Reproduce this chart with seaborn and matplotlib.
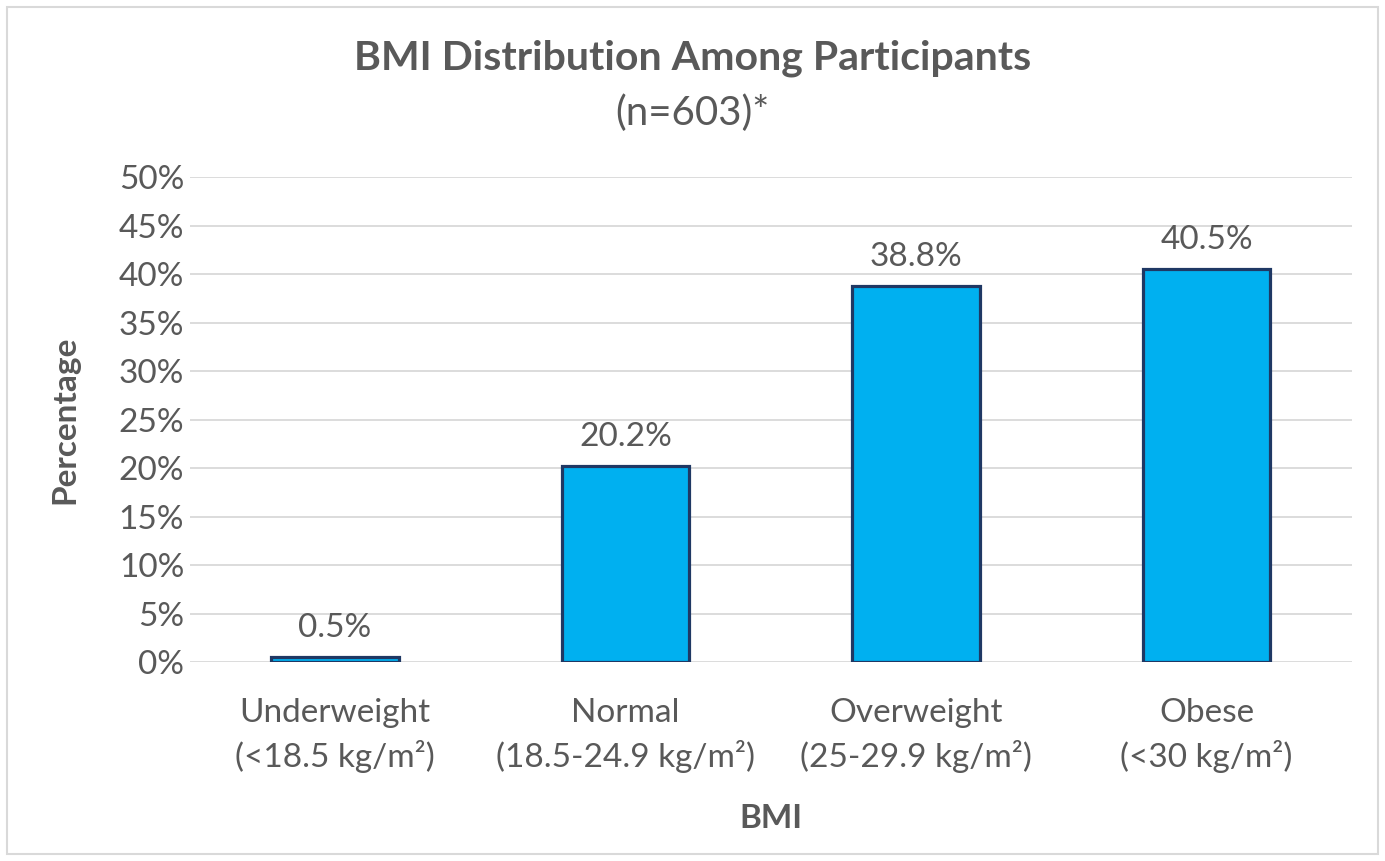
import matplotlib
matplotlib.use("Agg")
import matplotlib.pyplot as plt
from matplotlib.patches import Rectangle
from matplotlib.ticker import PercentFormatter
import seaborn as sns
import pandas as pd

categories = ["Underweight\n(<18.5 kg/m²)", "Normal\n(18.5-24.9 kg/m²)",
              "Overweight\n(25-29.9 kg/m²)", "Obese\n(<30 kg/m²)"]
percentages = [0.5, 20.2, 38.8, 40.5]
value_labels = ["0.5%", "20.2%", "38.8%", "40.5%"]

sns.set_theme(style="white")
plt.rcParams["font.family"] = ["Lato", "DejaVu Sans"]

TEXT = "#595959"
FILL = "#00B0F0"
EDGE = "#1F3864"
GRID = "#D9D9D9"
FS = 24

df = pd.DataFrame({"BMI": categories, "Percentage": percentages})

fig = plt.figure(figsize=(13.85, 8.61), dpi=100)
ax = fig.add_axes([0.137, 0.2311, 0.839, 0.5633])

sns.barplot(data=df, x="BMI", y="Percentage", color=FILL, width=0.44,
            edgecolor=EDGE, linewidth=2.3, saturation=1, ax=ax, zorder=3)

ax.set_ylim(0, 50)
ax.set_xlim(-0.5, 3.5)
ax.set_yticks(range(0, 51, 5))
ax.yaxis.set_major_formatter(PercentFormatter(decimals=0))
ax.grid(axis="y", color=GRID, linewidth=1.3, zorder=0)
ax.set_axisbelow(True)
for s in ax.spines.values():
    s.set_visible(False)
ax.tick_params(axis="both", length=0, labelsize=FS, colors=TEXT)
ax.tick_params(axis="y", pad=4)
ax.tick_params(axis="x", pad=26)
for lbl in ax.get_xticklabels():
    lbl.set_linespacing(1.45)

ax.set_xlabel("BMI", fontsize=FS, fontweight="bold", color=TEXT, labelpad=22)
ax.set_ylabel("Percentage", fontsize=FS, fontweight="bold", color=TEXT)
ax.yaxis.set_label_coords(-0.095, 0.5)

for bar, txt in zip(ax.patches, value_labels):
    ax.annotate(txt, (bar.get_x() + bar.get_width() / 2, bar.get_height()),
                xytext=(0, 10), textcoords="offset points", ha="center",
                va="bottom", fontsize=FS, color=TEXT)

fig.text(0.5, 0.932, "BMI Distribution Among Participants", ha="center",
         va="center", fontsize=29.5, fontweight="bold", color=TEXT)
fig.text(0.5, 0.868, "(n=603)*", ha="center", va="center", fontsize=29,
         color=TEXT)

fig.add_artist(Rectangle((0.005, 0.008), 0.99, 0.984, transform=fig.transFigure,
                         fill=False, edgecolor=GRID, linewidth=1.5))

fig.savefig("out.png", dpi=100, facecolor="white")
